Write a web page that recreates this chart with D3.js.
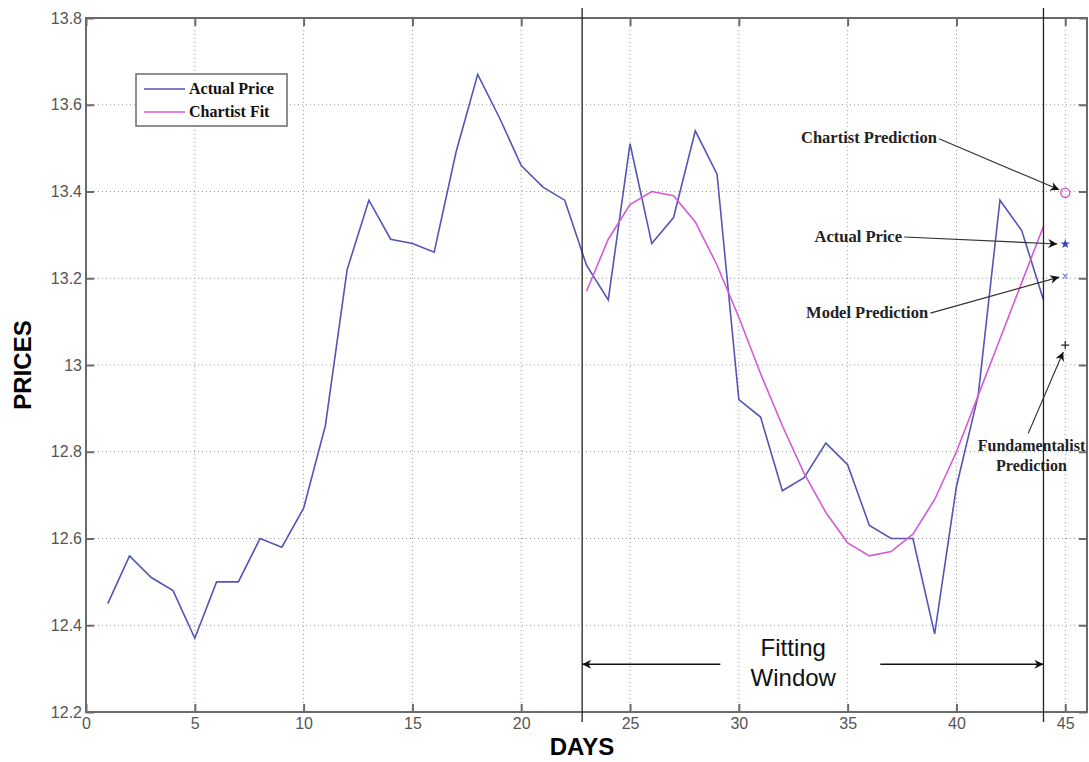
<!DOCTYPE html>
<html>
<head>
<meta charset="utf-8">
<script src="https://cdn.jsdelivr.net/npm/d3@7"></script>
<style>
    body { margin: 0; background: #fff; }
    svg { display: block; }
</style>
</head>
<body>
<div id="chart"></div>
<script>
(function () {
    'use strict';

    // data
    var days = [1, 2, 3, 4, 5, 6, 7, 8, 9, 10, 11, 12, 13, 14, 15, 16, 17, 18, 19, 20, 21, 22,
        23, 24, 25, 26, 27, 28, 29, 30, 31, 32, 33, 34, 35, 36, 37, 38, 39, 40, 41, 42, 43, 44];
    var actualPrice = [12.45, 12.56, 12.51, 12.48, 12.37, 12.50, 12.50, 12.60, 12.58, 12.67, 12.86,
        13.22, 13.38, 13.29, 13.28, 13.26, 13.49, 13.67, 13.57, 13.46, 13.41, 13.38,
        13.23, 13.15, 13.51, 13.28, 13.34, 13.54, 13.44, 12.92, 12.88, 12.71, 12.74, 12.82,
        12.77, 12.63, 12.60, 12.60, 12.38, 12.72, 12.93, 13.38, 13.31, 13.15];
    var fitDays = [23, 24, 25, 26, 27, 28, 29, 30, 31, 32, 33, 34, 35, 36, 37, 38, 39, 40, 41, 42, 43, 44];
    var chartistFit = [13.17, 13.29, 13.37, 13.40, 13.39, 13.33, 13.23, 13.11, 12.98, 12.86, 12.75,
        12.66, 12.59, 12.56, 12.57, 12.61, 12.69, 12.80, 12.93, 13.06, 13.19, 13.32];
    var predictionDay = 45;
    var predictions = [
        { name: 'chartist', value: 13.397 },
        { name: 'actual', value: 13.279 },
        { name: 'model', value: 13.205 },
        { name: 'fundamentalist', value: 13.046 }
    ];
    var windowStart = 22.8;
    var windowEnd = 44;
    var xTicks = [0, 5, 10, 15, 20, 25, 30, 35, 40, 45];
    var yTicks = [12.2, 12.4, 12.6, 12.8, 13, 13.2, 13.4, 13.6, 13.8];

    var width = 1089;
    var height = 762;
    var margin = { top: 18, right: 2, bottom: 50, left: 86 };
    var plotW = width - margin.left - margin.right;
    var plotH = height - margin.top - margin.bottom;

    var blue = '#5555b5';
    var magenta = '#d55ad5';
    var frame = '#6a6a6a';

    var svg = d3.select('#chart')
        .append('svg')
        .attr('width', width)
        .attr('height', height);

    var g = svg.append('g')
        .attr('transform', 'translate(' + margin.left + ',' + margin.top + ')');

    var x = d3.scaleLinear().domain([0, 46]).range([0, plotW]);
    var y = d3.scaleLinear().domain([12.2, 13.8]).range([plotH, 0]);

    // dotted grid
    g.append('g').selectAll('line')
        .data(xTicks.slice(1))
        .join('line')
        .attr('x1', function (d) { return x(d); })
        .attr('x2', function (d) { return x(d); })
        .attr('y1', 0)
        .attr('y2', plotH)
        .attr('stroke', '#999')
        .attr('stroke-width', 1)
        .attr('stroke-dasharray', '1,3');

    g.append('g').selectAll('line')
        .data(yTicks.slice(1, -1))
        .join('line')
        .attr('x1', 0)
        .attr('x2', plotW)
        .attr('y1', function (d) { return y(d); })
        .attr('y2', function (d) { return y(d); })
        .attr('stroke', '#999')
        .attr('stroke-width', 1)
        .attr('stroke-dasharray', '1,3');

    // axes with inward ticks, matlab style
    function styleAxis(sel) {
        sel.select('.domain').remove();
        sel.selectAll('.tick line').attr('stroke', frame).attr('stroke-width', 2);
        sel.selectAll('.tick text')
            .attr('fill', '#555')
            .style('font-family', 'Liberation Sans, Arial, sans-serif')
            .style('font-size', '16px');
    }

    g.append('g')
        .attr('transform', 'translate(0,' + plotH + ')')
        .call(d3.axisBottom(x).tickValues(xTicks).tickSizeInner(-8).tickSizeOuter(0).tickPadding(4)
            .tickFormat(d3.format('d')))
        .call(function (sel) {
            styleAxis(sel);
            sel.selectAll('.tick text').attr('y', 3).attr('dy', '0.9em');
        });

    g.append('g')
        .call(d3.axisTop(x).tickValues(xTicks).tickSizeInner(-8).tickSizeOuter(0).tickFormat(''))
        .call(styleAxis);

    g.append('g')
        .call(d3.axisLeft(y).tickValues(yTicks).tickSizeInner(-8).tickSizeOuter(0).tickPadding(4)
            .tickFormat(function (d) { return d === 13 ? '13' : d3.format('.1f')(d); }))
        .call(styleAxis);

    g.append('g')
        .attr('transform', 'translate(' + plotW + ',0)')
        .call(d3.axisRight(y).tickValues(yTicks).tickSizeInner(-8).tickSizeOuter(0).tickFormat(''))
        .call(styleAxis);

    g.append('rect')
        .attr('width', plotW)
        .attr('height', plotH)
        .attr('fill', 'none')
        .attr('stroke', frame)
        .attr('stroke-width', 2);

    // series
    var line = d3.line()
        .x(function (d) { return x(d[0]); })
        .y(function (d) { return y(d[1]); });

    g.append('path')
        .datum(d3.zip(days, actualPrice))
        .attr('d', line)
        .attr('fill', 'none')
        .attr('stroke', blue)
        .attr('stroke-width', 1.6);

    g.append('path')
        .datum(d3.zip(fitDays, chartistFit))
        .attr('d', line)
        .attr('fill', 'none')
        .attr('stroke', magenta)
        .attr('stroke-width', 1.6);

    // fitting window
    [windowStart, windowEnd].forEach(function (d) {
        g.append('line')
            .attr('x1', x(d)).attr('x2', x(d))
            .attr('y1', -10).attr('y2', plotH + 10)
            .attr('stroke', '#222')
            .attr('stroke-width', 1.3);
    });

    var defs = svg.append('defs');
    defs.append('marker')
        .attr('id', 'arrow')
        .attr('viewBox', '0 0 10 10')
        .attr('refX', 10)
        .attr('refY', 5)
        .attr('markerWidth', 11)
        .attr('markerHeight', 9)
        .attr('markerUnits', 'userSpaceOnUse')
        .attr('orient', 'auto')
        .append('path')
        .attr('d', 'M0,0L10,5L0,10L3,5Z')
        .attr('fill', '#111');

    var arrowY = y(12.31);
    g.append('line')
        .attr('x1', x(29.15)).attr('x2', x(windowStart))
        .attr('y1', arrowY).attr('y2', arrowY)
        .attr('stroke', '#111').attr('stroke-width', 1.5)
        .attr('marker-end', 'url(#arrow)');
    g.append('line')
        .attr('x1', x(36.5)).attr('x2', x(windowEnd))
        .attr('y1', arrowY).attr('y2', arrowY)
        .attr('stroke', '#111').attr('stroke-width', 1.5)
        .attr('marker-end', 'url(#arrow)');

    var fitText = g.append('text')
        .attr('x', x(32.5))
        .attr('y', y(12.33))
        .attr('text-anchor', 'middle')
        .style('font-family', 'Liberation Sans, Arial, sans-serif')
        .style('font-size', '24px')
        .attr('fill', '#111');
    fitText.append('tspan').attr('x', x(32.5)).text('Fitting');
    fitText.append('tspan').attr('x', x(32.5)).attr('dy', 30).text('Window');

    // prediction markers at day 45
    var px = x(predictionDay);
    var pred = {};
    predictions.forEach(function (p) { pred[p.name] = y(p.value); });

    g.append('circle')
        .attr('cx', px).attr('cy', pred.chartist).attr('r', 4.5)
        .attr('fill', 'none').attr('stroke', magenta).attr('stroke-width', 1.5);

    g.append('path')
        .attr('d', d3.symbol().type(d3.symbolStar).size(28)())
        .attr('transform', 'translate(' + px + ',' + pred.actual + ')')
        .attr('fill', '#3040d0');

    g.append('path')
        .attr('d', 'M-2.5,-2.5L2.5,2.5M-2.5,2.5L2.5,-2.5')
        .attr('transform', 'translate(' + px + ',' + pred.model + ')')
        .attr('stroke', '#7a8ad8').attr('stroke-width', 1.2);

    g.append('path')
        .attr('d', 'M-4,0L4,0M0,-4L0,4')
        .attr('transform', 'translate(' + px + ',' + pred.fundamentalist + ')')
        .attr('stroke', '#222').attr('stroke-width', 1.2);

    // annotations
    var serif = 'Liberation Serif, Times New Roman, serif';

    function note(txt, tx, ty, anchor, ax1, ay1, ax2, ay2) {
        g.append('text')
            .attr('x', tx).attr('y', ty)
            .attr('text-anchor', anchor)
            .style('font-family', serif)
            .style('font-size', '16.5px')
            .style('font-weight', 'bold')
            .attr('fill', '#222')
            .text(txt);
        g.append('line')
            .attr('x1', ax1).attr('y1', ay1)
            .attr('x2', ax2).attr('y2', ay2)
            .attr('stroke', '#333').attr('stroke-width', 1.2)
            .attr('marker-end', 'url(#arrow)');
    }

    note('Chartist Prediction', x(39.1), pred.chartist - 50, 'end',
        x(39.2), pred.chartist - 54, px - 6, pred.chartist - 3);
    note('Actual Price', x(37.5), pred.actual - 2, 'end',
        x(37.6), pred.actual - 7, px - 8, pred.actual);
    note('Model Prediction', x(38.7), pred.model + 42, 'end',
        x(38.8), pred.model + 37, px - 6, pred.model + 1);

    var fundX = x(43.45);
    var fundText = g.append('text')
        .attr('x', fundX)
        .attr('y', y(12.9) + 43)
        .attr('text-anchor', 'middle')
        .style('font-family', serif)
        .style('font-size', '16px')
        .style('font-weight', 'bold')
        .attr('fill', '#222');
    fundText.append('tspan').attr('x', fundX).text('Fundamentalist');
    fundText.append('tspan').attr('x', fundX).attr('dy', 20).text('Prediction');
    g.append('line')
        .attr('x1', x(43.3)).attr('y1', y(12.9) + 25)
        .attr('x2', px - 2).attr('y2', pred.fundamentalist + 7)
        .attr('stroke', '#333').attr('stroke-width', 1.2)
        .attr('marker-end', 'url(#arrow)');

    // legend
    var legend = svg.append('g').attr('transform', 'translate(136,74)');
    legend.append('rect')
        .attr('width', 151).attr('height', 52)
        .attr('fill', '#fff').attr('stroke', frame).attr('stroke-width', 1.5);
    [['Actual Price', blue], ['Chartist Fit', magenta]].forEach(function (d, i) {
        var ly = 15 + i * 23;
        legend.append('line')
            .attr('x1', 8).attr('x2', 49)
            .attr('y1', ly).attr('y2', ly)
            .attr('stroke', d[1]).attr('stroke-width', 1.6);
        legend.append('text')
            .attr('x', 53).attr('y', ly + 5)
            .style('font-family', serif)
            .style('font-size', '16px')
            .style('font-weight', 'bold')
            .attr('fill', '#111')
            .text(d[0]);
    });

    // axis titles
    svg.append('text')
        .attr('x', 582).attr('y', 755)
        .attr('text-anchor', 'middle')
        .style('font-family', 'Liberation Sans, Arial, sans-serif')
        .style('font-size', '24px')
        .style('font-weight', 'bold')
        .attr('fill', '#000')
        .text('DAYS');

    svg.append('text')
        .attr('transform', 'translate(31,' + (margin.top + plotH / 2) + ') rotate(-90)')
        .attr('text-anchor', 'middle')
        .style('font-family', 'Liberation Sans, Arial, sans-serif')
        .style('font-size', '24px')
        .style('font-weight', 'bold')
        .attr('fill', '#000')
        .text('PRICES');
}());
</script>
</body>
</html>
